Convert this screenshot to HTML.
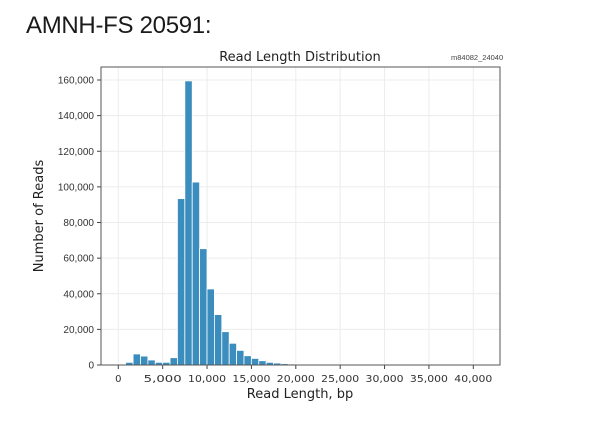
<!DOCTYPE html>
<html><head><meta charset="utf-8"><style>
body{margin:0;background:#fff;width:594px;height:440px;overflow:hidden;font-family:"Liberation Sans",sans-serif}
#hdr{position:absolute;left:26px;top:12px;font-size:24px;color:#1a1a1a;letter-spacing:-0.3px}
svg{position:absolute;left:0;top:0}
</style></head><body>
<div id="hdr">AMNH-FS 20591:</div>
<svg id="chart" width="594" height="440"></svg>
<script>
const binWidth = 833;
const binStarts = [1,2,3,4,5,6,7,8,9,10,11,12,13,14,15,16,17,18,19,20,21,22,23,24,25,26,27];
const counts = [1500,6200,5000,2800,1500,1500,4100,93400,159500,102700,65300,42700,28300,18700,12200,8200,5200,3700,2400,1500,1100,750,550,400,300,200,100];
const xTicks = [0,5000,10000,15000,20000,25000,30000,35000,40000];
const yTicks = [0,20000,40000,60000,80000,100000,120000,140000,160000];
const NS="http://www.w3.org/2000/svg";
const svg=document.getElementById('chart');
const L=101,R=500,T=67,B=365;
const x=v=>118.3+v*355/40000;
const y=v=>365-v*285/160000;
function mk(t,a,txt){const e=document.createElementNS(NS,t);for(const k in a)e.setAttribute(k,a[k]);if(txt!==undefined)e.textContent=txt;svg.appendChild(e);return e;}
const fmt=v=>v.toLocaleString('en-US');
xTicks.forEach(v=>{
 const g=mk('line',{x1:x(v),x2:x(v),y1:T,y2:B,stroke:'#ececec','stroke-width':1});
 
 const tk=mk('line',{x1:x(v),x2:x(v),y1:B,y2:B+4,stroke:'#444'});
 
 const t=mk('text',{x:x(v),y:B+17,'text-anchor':'middle','font-size':10,fill:'#333','font-family':'DejaVu Sans, sans-serif','textLength':38,'lengthAdjust':'spacingAndGlyphs'},fmt(v));
 if(v===0){t.removeAttribute('textLength');}
 
});
yTicks.forEach(v=>{
 const g=mk('line',{x1:L,x2:R,y1:y(v),y2:y(v),stroke:'#ececec','stroke-width':1});
 
 const tk=mk('line',{x1:L-4,x2:L,y1:y(v),y2:y(v),stroke:'#444'});
 
 const t=mk('text',{x:L-7,y:y(v)+3.5,'text-anchor':'end','font-size':10,fill:'#333'},fmt(v));
 
});
binStarts.forEach((k,i)=>{
 const x0=x(k*binWidth),x1=x((k+1)*binWidth);
 const b=mk('rect',{x:x0,y:y(counts[i]),width:x1-x0,height:B-y(counts[i]),fill:'#3b8dbd',stroke:'#fff','stroke-width':0.8});
 
});
const fr=mk('rect',{x:L,y:T,width:R-L,height:B-T,fill:'none',stroke:'#555','stroke-width':1});

const tt=mk('text',{x:300,y:61,'text-anchor':'middle','font-size':13,fill:'#222','font-family':'DejaVu Sans, sans-serif'},'Read Length Distribution');

const id=mk('text',{x:451,y:60,'font-size':7.5,fill:'#444'},'m84082_24040');

const xl=mk('text',{x:300,y:398,'text-anchor':'middle','font-size':13,fill:'#222','font-family':'DejaVu Sans, sans-serif'},'Read Length, bp');

const yl=mk('text',{x:0,y:0,'text-anchor':'middle','font-size':13,fill:'#222','font-family':'DejaVu Sans, sans-serif',transform:'translate(43,216) rotate(-90)'},'Number of Reads');

</script>
</body></html>
